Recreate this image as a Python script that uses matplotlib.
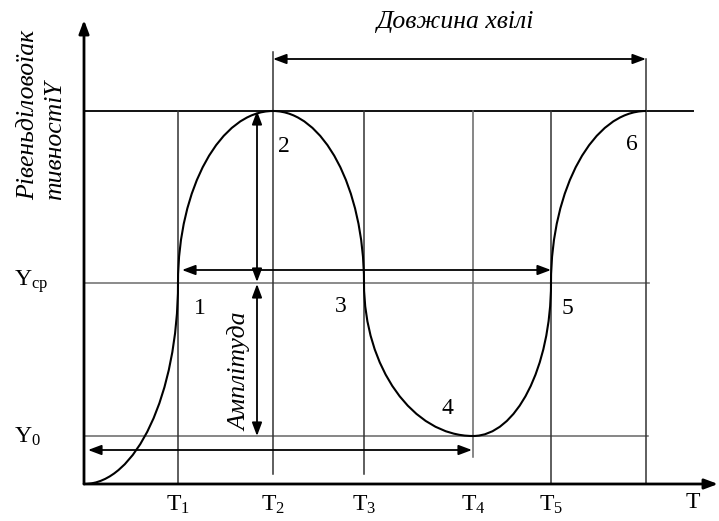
import matplotlib
matplotlib.use("Agg")
import matplotlib.pyplot as plt
from matplotlib.path import Path
from matplotlib.patches import PathPatch, FancyArrowPatch

plt.rcParams['font.family'] = ['Liberation Serif', 'DejaVu Serif']
plt.rcParams['mathtext.fontset'] = 'custom'
plt.rcParams['mathtext.rm'] = 'Liberation Serif'
plt.rcParams['mathtext.it'] = 'Liberation Serif:italic'

# ---- data (schematic units) ----
t_names = ['T$_1$', 'T$_2$', 'T$_3$', 'T$_4$', 'T$_5$']
t_values = [0.94, 1.89, 2.80, 3.89, 4.67, 5.62]   # T1..T5 and end of wave
y_names = [r'Y$_{\mathrm{ср}}$', 'Y$_0$']
y_max = 3.73
y_mid = 2.01
y_min = 0.48
point_labels = ['1', '2', '3', '4', '5', '6']
curve_x = [0.0] + t_values
curve_y = [0.0, y_mid, y_max, y_mid, y_min, y_mid, y_max]
y_title = 'Рівеньділовоїак'
y_title2 = 'тивностіY'
wave_title = 'Довжина хвілі'
amp_title = 'Амплітуда'

fig = plt.figure(figsize=(7.19, 5.21), dpi=100)
ax = fig.add_axes([0, 0, 1, 1])
ax.set_xlim(-0.84, 6.35)
ax.set_ylim(-0.37, 4.84)
ax.axis('off')

FS = 17
FI = 18.5
T1, T2, T3, T4, T5, T6 = t_values

def arrow(p0, p1, style='<|-|>', lw=1.3):
    a = FancyArrowPatch(p0, p1, arrowstyle=style + ',head_length=0.8,head_width=0.3',
                        mutation_scale=10, lw=lw, color='black',
                        shrinkA=0, shrinkB=0, zorder=5)
    ax.add_patch(a)

# axes with arrows
arrow((0, 0), (0, 4.64), '-|>', lw=2)
arrow((0, 0), (6.34, 0), '-|>', lw=2)

# horizontal grid lines
ax.plot([0, 6.09], [y_max, y_max], color='#111111', lw=1.4)
ax.plot([0, T6 + 0.03], [y_mid, y_mid], color='#777777', lw=1.2)
ax.plot([0, T6 + 0.02], [y_min, y_min], color='#666666', lw=1.1)

# vertical lines
vcol = '#333333'
ax.plot([T1, T1], [0, y_max], color=vcol, lw=1.1)
ax.plot([T2, T2], [0.10, 4.32], color=vcol, lw=1.1)
ax.plot([T3, T3], [0.10, y_max], color=vcol, lw=1.1)
ax.plot([T4, T4], [0.27, y_max], color='#666666', lw=1.1)
ax.plot([T5, T5], [0, y_max], color=vcol, lw=1.1)
ax.plot([T6, T6], [0, 4.25], color=vcol, lw=1.1)

# curve from quarter-ellipse Bezier segments
k = 0.5523
verts = [(curve_x[0], curve_y[0])]
codes = [Path.MOVETO]
for i in range(len(curve_x) - 1):
    xa, ya, xb, yb = curve_x[i], curve_y[i], curve_x[i + 1], curve_y[i + 1]
    if i % 2 == 0:  # horizontal tangent -> vertical tangent
        c1 = (xa + k * (xb - xa), ya)
        c2 = (xb, yb - k * (yb - ya))
    else:           # vertical tangent -> horizontal tangent
        c1 = (xa, ya + k * (yb - ya))
        c2 = (xb - k * (xb - xa), yb)
    verts += [c1, c2, (xb, yb)]
    codes += [Path.CURVE4] * 3
ax.add_patch(PathPatch(Path(verts, codes), fill=False, lw=1.5, color='black', zorder=4))

# dimension arrows
arrow((T2, 4.25), (T6, 4.25))
arrow((T1 + 0.04, 2.14), (T5, 2.14))
arrow((0.04, 0.34), (T4 - 0.01, 0.34))
arrow((1.73, y_max), (1.73, y_mid + 0.01))
arrow((1.73, y_mid - 0.01), (1.73, y_min))

# point labels
offsets = [(0.22, -0.25), (0.11, -0.35), (-0.23, -0.24), (-0.26, 0.28), (0.16, -0.25), (-0.14, -0.33)]
for lab, x, y, (dx, dy) in zip(point_labels, curve_x[1:], curve_y[1:], offsets):
    ax.text(x + dx, y + dy, lab, fontsize=FS, ha='center', va='center')

# tick-like labels
for name, x in zip(t_names, t_values[:5]):
    ax.text(x, -0.21, name, fontsize=FS, ha='center', va='center')
ax.text(6.09, -0.19, 'T', fontsize=FS, ha='center', va='center')
ax.text(-0.70, y_mid + 0.01, y_names[0], fontsize=FS, ha='left', va='center')
ax.text(-0.70, y_min - 0.01, y_names[1], fontsize=FS, ha='left', va='center')

# titles
ax.text(3.71, 4.62, wave_title, fontsize=FI, style='italic', ha='center', va='center')
ax.text(-0.56, 2.84, y_title, fontsize=FI, style='italic', rotation=90, ha='center', va='bottom')
ax.text(-0.29, 2.84, y_title2, fontsize=FI, style='italic', rotation=90, ha='center', va='bottom')
ax.text(1.56, 1.12, amp_title, fontsize=FI, style='italic', rotation=90, ha='center', va='center')

fig.savefig('out.png', dpi=100)
